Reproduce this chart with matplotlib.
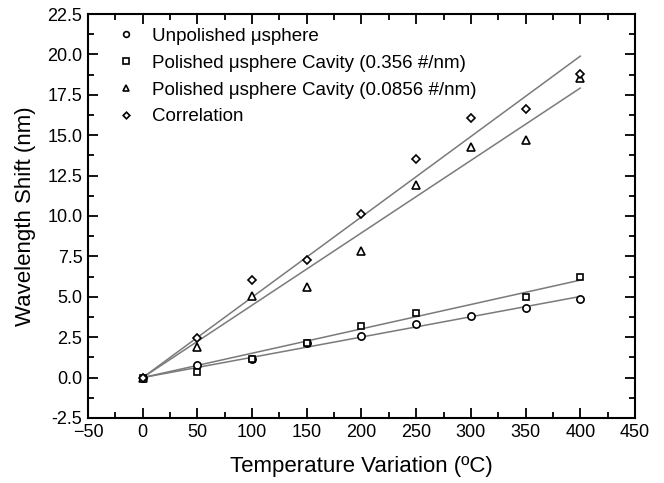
import numpy as np
import matplotlib
matplotlib.use("Agg")
import matplotlib.pyplot as plt
from matplotlib.ticker import MultipleLocator

plt.rcParams['font.family'] = ['Liberation Sans', 'DejaVu Sans']

temps = np.array([0, 50, 100, 150, 200, 250, 300, 350, 400], dtype=float)
unpolished = np.array([0.0, 0.78, 1.13, 2.12, 2.57, 3.32, 3.80, 4.30, 4.85])
polished_356 = np.array([0.0, 0.37, 1.12, 2.12, 3.21, 4.00, np.nan, 4.98, 6.25])
polished_0856 = np.array([0.0, 1.87, 5.05, 5.63, 7.85, 11.92, 14.29, 14.70, 18.55])
correlation = np.array([0.0, 2.45, 6.05, 7.30, 10.10, 13.50, 16.05, 16.60, 18.80])

labels = ["Unpolished \u03bcsphere",
          "Polished \u03bcsphere Cavity (0.356 #/nm)",
          "Polished \u03bcsphere Cavity (0.0856 #/nm)",
          "Correlation"]
markers = ["o", "s", "^", "D"]
series = [unpolished, polished_356, polished_0856, correlation]

fig = plt.figure(figsize=(6.64, 4.83), dpi=100)
ax = fig.add_axes([0.1325, 0.1346, 0.8238, 0.8364])

xfit = np.array([temps[0], temps[-1]])
for y in series:
    m = ~np.isnan(y)
    slope = np.sum(temps[m] * y[m]) / np.sum(temps[m] ** 2)
    ax.plot(xfit, slope * xfit, color="#7a7a7a", lw=1.1, zorder=1)

for y, mk, lab in zip(series, markers, labels):
    ms = {"o": 5.2, "s": 4.8, "^": 5.2, "D": 4.2}[mk]
    ax.plot(temps, y, linestyle="none", marker=mk, markersize=ms,
            markerfacecolor="white", markeredgecolor="black",
            markeredgewidth=1.2, label=lab, zorder=3)

ax.set_xlim(-50, 450)
ax.set_ylim(-2.5, 22.5)
ax.xaxis.set_major_locator(MultipleLocator(50))
ax.xaxis.set_minor_locator(MultipleLocator(25))
ax.yaxis.set_major_locator(MultipleLocator(2.5))
ax.yaxis.set_minor_locator(MultipleLocator(1.25))
ax.yaxis.set_major_formatter(matplotlib.ticker.FormatStrFormatter('%.1f'))

ax.tick_params(which="both", direction="in", top=True, right=True,
               labelsize=13, width=1.3, colors="black")
ax.tick_params(which="major", length=7, pad=4)
ax.tick_params(which="minor", length=4)
for sp in ax.spines.values():
    sp.set_linewidth(1.5)

ax.set_xlabel("Temperature Variation (\u00baC)", fontsize=16, labelpad=11)
ax.set_ylabel("Wavelength Shift (nm)", fontsize=16, labelpad=8)

leg = ax.legend(loc="upper left", frameon=False, fontsize=13.5,
                handlelength=0.85, handletextpad=1.0, borderaxespad=0.5,
                labelspacing=0.52, markerscale=0.8,
                bbox_to_anchor=(0.0235, 1.008))

fig.savefig("out.png", dpi=100)
